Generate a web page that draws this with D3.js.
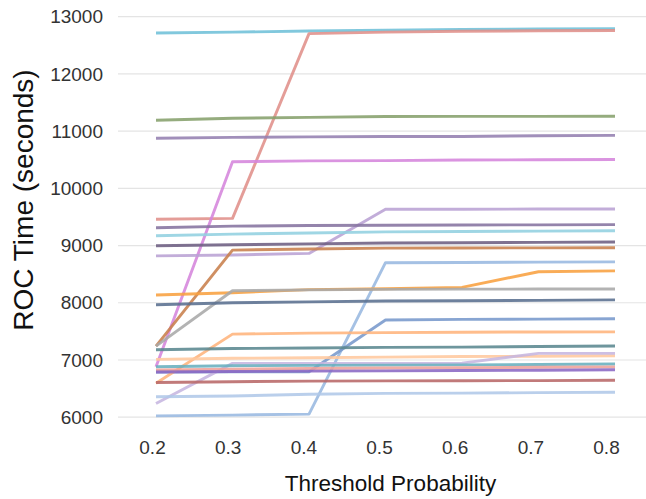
<!DOCTYPE html>
<html>
<head>
<meta charset="utf-8">
<script src="https://cdn.jsdelivr.net/npm/d3@7"></script>
<style>
  html, body { margin: 0; padding: 0; background: #fff; }
  svg { display: block; font-family: "Liberation Sans", Arial, Helvetica, sans-serif; }
</style>
</head>
<body>
<svg id="chart" width="646" height="499"></svg>
<script>
const thresholds = [0.2, 0.3, 0.4, 0.5, 0.6, 0.7, 0.8];
const yTicks = [6000, 7000, 8000, 9000, 10000, 11000, 12000, 13000];

const s01 = [12715, 12730, 12750, 12765, 12775, 12785, 12790];
const s02 = [9460, 9475, 12705, 12730, 12745, 12755, 12760];
const s03 = [11190, 11225, 11240, 11255, 11258, 11258, 11260];
const s04 = [10875, 10890, 10900, 10905, 10905, 10920, 10925];
const s05 = [6880, 10465, 10480, 10485, 10495, 10500, 10505];
const s06 = [8820, 8835, 8863, 9635, 9635, 9638, 9640];
const s07 = [9311, 9340, 9350, 9355, 9360, 9362, 9365];
const s08 = [9171, 9200, 9220, 9240, 9245, 9252, 9259];
const s09 = [8997, 9015, 9030, 9045, 9050, 9055, 9063];
const s10 = [7243, 8921, 8940, 8955, 8958, 8960, 8962];
const s11 = [6024, 6037, 6054, 8700, 8705, 8710, 8714];
const s12 = [8135, 8175, 8230, 8245, 8269, 8542, 8558];
const s13 = [7243, 8210, 8225, 8235, 8238, 8240, 8240];
const s14 = [7965, 8000, 8015, 8030, 8035, 8042, 8050];
const s15 = [6790, 6792, 6794, 7698, 7710, 7715, 7722];
const s16 = [6595, 7452, 7470, 7478, 7485, 7490, 7492];
const s17 = [7178, 7200, 7210, 7220, 7225, 7235, 7245];
const s18 = [7010, 7030, 7040, 7050, 7060, 7065, 7073];
const s19 = [6241, 6941, 6941, 6941, 6945, 7115, 7115];
const s20 = [6882, 6900, 6905, 6910, 6915, 6920, 6930];
const s21 = [6825, 6840, 6850, 6860, 6865, 6872, 6880];
const s22 = [6790, 6800, 6805, 6810, 6815, 6820, 6830];
const s23 = [6607, 6620, 6630, 6635, 6638, 6640, 6645];
const s24 = [6357, 6370, 6400, 6416, 6420, 6430, 6436];

const seriesList = [s01, s02, s03, s04, s05, s06, s07, s08, s09, s10, s11, s12,
                    s13, s14, s15, s16, s17, s18, s19, s20, s21, s22, s23, s24];
const seriesColors = ["#6fc0d8", "#e0908a", "#86a06c", "#9480b0", "#d585dc", "#b9a2d4",
                      "#85739f", "#92d0e0", "#6d5f82", "#c8804c", "#98b8e0", "#f8a040",
                      "#a8a8a8", "#5a7090", "#7898cc", "#ffb47c", "#5a8890", "#ffc89e",
                      "#c6b6e0", "#68afbe", "#eea29a", "#8a68c4", "#b86868", "#b0c8e8"];

const svg = d3.select("#chart");

const y = d3.scaleLinear().domain([6000, 13000]).range([417.2, 16.7]);
const x = d3.scalePoint().domain(thresholds).range([156, 615]);
const xLabel = d3.scalePoint().domain(thresholds).range([152, 606]);

const yAxis = d3.axisLeft(y).tickValues(yTicks).tickSize(0).tickPadding(0).tickFormat(d3.format("d"));
const gy = svg.append("g").attr("transform", "translate(103,0)").call(yAxis);
gy.select(".domain").remove();
gy.selectAll("text").attr("font-size", 19).attr("fill", "#333").attr("x", 0)
  .attr("font-family", "'Liberation Sans', Arial, sans-serif");

svg.append("g").selectAll("line").data(yTicks).join("line")
  .attr("x1", 118).attr("x2", 646)
  .attr("y1", d => y(d)).attr("y2", d => y(d))
  .attr("stroke", "#e4e4e4").attr("stroke-width", 1.2);

const xAxis = d3.axisBottom(xLabel).tickSize(0).tickPadding(0).tickFormat(d3.format(".1f"));
const gx = svg.append("g").attr("transform", "translate(0,440)").call(xAxis);
gx.select(".domain").remove();
gx.selectAll("text").attr("font-size", 19).attr("fill", "#333")
  .attr("font-family", "'Liberation Sans', Arial, sans-serif");

const line = d3.line().x((d, i) => x(thresholds[i])).y(d => y(d));
svg.append("g").selectAll("path").data(seriesList).join("path")
  .attr("d", d => line(d))
  .attr("fill", "none")
  .attr("stroke", (d, i) => seriesColors[i])
  .attr("stroke-width", 2.9)
  .attr("stroke-opacity", 0.88)
  .attr("stroke-linejoin", "round");

svg.append("text")
  .attr("transform", "translate(33,200) rotate(-90)")
  .attr("text-anchor", "middle")
  .attr("font-size", 28)
  .attr("fill", "#111")
  .text("ROC Time (seconds)");

svg.append("text")
  .attr("x", 390.5).attr("y", 491)
  .attr("text-anchor", "middle")
  .attr("font-size", 22.5)
  .attr("fill", "#111")
  .text("Threshold Probability");
</script>
</body>
</html>
